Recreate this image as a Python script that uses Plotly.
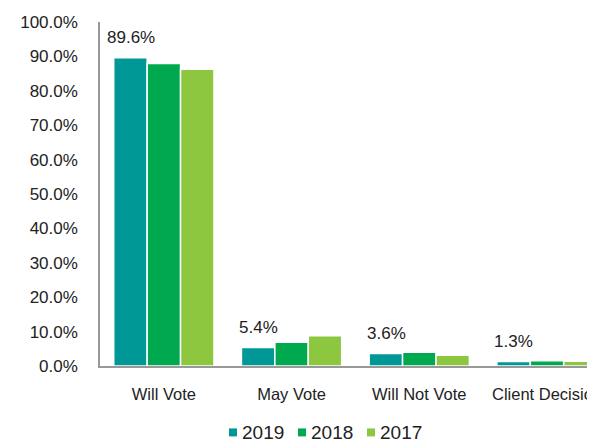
import plotly.graph_objects as go

categories = ["Will Vote", "May Vote", "Will Not Vote", "Client Decision"]
series_names = ["2019", "2018", "2017"]
values_2019 = [89.6, 5.4, 3.6, 1.3]
values_2018 = [87.9, 6.9, 4.0, 1.5]
values_2017 = [86.3, 8.8, 3.1, 1.4]
colors = ["#009797", "#00A94F", "#8DC63F"]
label_series = values_2019
y_ticks = [0, 10, 20, 30, 40, 50, 60, 70, 80, 90, 100]
y_tick_text = [f"{v:.1f}%" for v in y_ticks]

FONT = "Liberation Sans, Arial, sans-serif"
TXT = "#222222"

# plot area geometry in figure pixels (page body adds an 8px offset)
W, H = 587, 435
ML, MT, MB = 92, 14, 76.5
PW, PH = W - ML, H - MT - MB

fig = go.Figure()
for name, vals, col in zip(series_names, [values_2019, values_2018, values_2017], colors):
    fig.add_trace(go.Bar(
        x=categories, y=vals, name=name,
        marker=dict(color=col, line=dict(color="white", width=1.5)),
        hoverinfo="skip", showlegend=False,
    ))

for cat, v in zip(categories, label_series):
    fig.add_annotation(
        x=cat, y=v, text=f"{v:.1f}%", showarrow=False,
        xshift=-33, yshift=20, yanchor="middle",
        font=dict(family=FONT, size=17, color=TXT),
    )

# legend drawn below the axis: small square swatch + label per series
def px_to_paper_x(px):
    return (px - ML) / PW

def px_to_paper_y(py):
    return (MT + PH - py) / PH

leg_x0, leg_pitch, leg_cy, sw = 221, 69, 425, 8
for i, (name, col) in enumerate(zip(series_names, colors)):
    sx = leg_x0 + i * leg_pitch
    fig.add_shape(type="rect", xref="paper", yref="paper",
                  x0=px_to_paper_x(sx), x1=px_to_paper_x(sx + sw),
                  y0=px_to_paper_y(leg_cy + sw / 2), y1=px_to_paper_y(leg_cy - sw / 2),
                  fillcolor=col, line=dict(width=0))
    fig.add_annotation(xref="paper", yref="paper",
                       x=px_to_paper_x(sx + sw + 3), y=px_to_paper_y(leg_cy),
                       xanchor="left", yanchor="middle", showarrow=False,
                       text=name, font=dict(family=FONT, size=19, color=TXT))

fig.update_layout(
    width=W, height=H,
    margin=dict(l=ML, r=0, t=MT, b=MB, autoexpand=False),
    paper_bgcolor="white", plot_bgcolor="white",
    barmode="group", bargap=0.215, bargroupgap=0,
    font=dict(family=FONT, size=16, color=TXT),
    showlegend=False,
    xaxis=dict(range=[-0.5, 3.376], showline=True, linecolor="#999999", linewidth=1.5,
               showgrid=False, ticks="", ticklabelstandoff=12, fixedrange=True,
               tickfont=dict(family=FONT, size=16.5, color=TXT)),
    yaxis=dict(range=[0, 100], tickvals=y_ticks, ticktext=y_tick_text,
               showline=True, linecolor="#999999", linewidth=1.5, showgrid=False,
               zeroline=False, ticks="", ticklabelstandoff=17,
               tickfont=dict(family=FONT, size=17, color=TXT)),
)

fig.write_html("out.html")
